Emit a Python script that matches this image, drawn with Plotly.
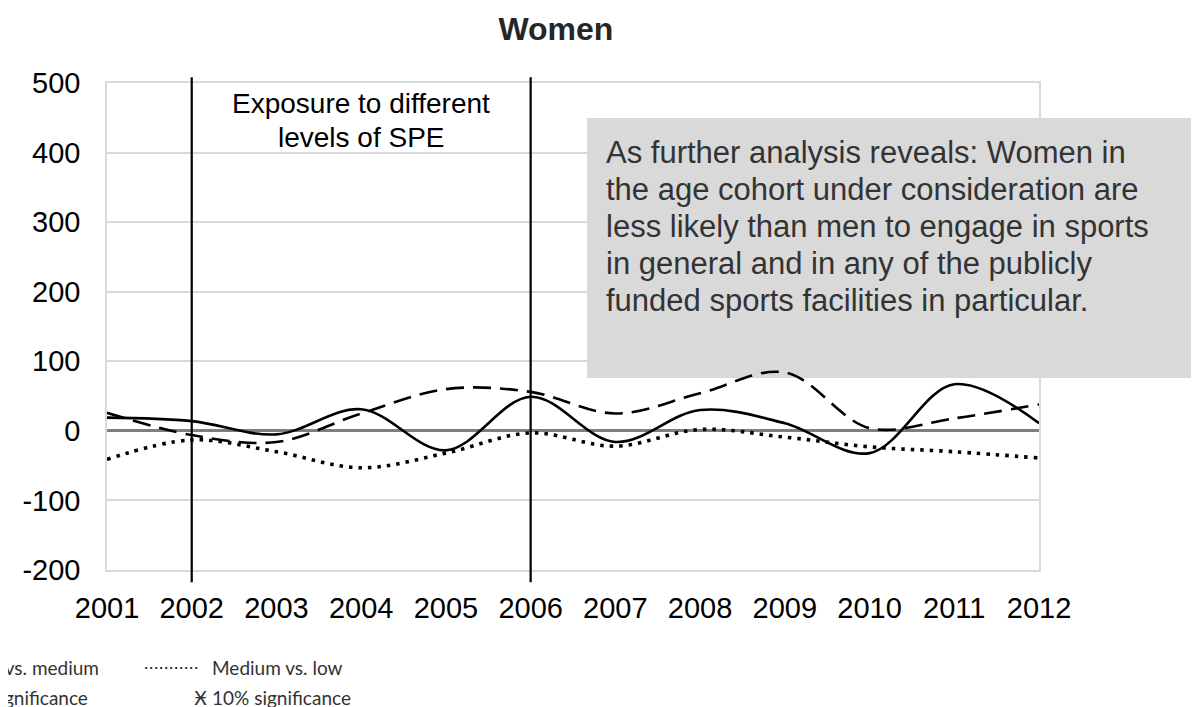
import plotly.graph_objects as go

# data
years = [2001, 2002, 2003, 2004, 2005, 2006, 2007, 2008, 2009, 2010, 2011, 2012]
year_labels = [str(y) for y in years]
y_ticks = [-200, -100, 0, 100, 200, 300, 400, 500]
y_labels = [str(v) for v in y_ticks]
high_vs_low = [19, 14, -5, 31, -28, 49, -16, 30, 11, -32, 67, 11]
high_vs_medium = [26, -6, -16, 25, 60, 56, 25, 54, 84, 4, 18, 38]
medium_vs_low = [-41, -13, -30, -53, -32, -3, -22, 2, -9, -23, -30, -39]
exposure_years = [2002, 2006]

exposure_lines = ["Exposure to different", "levels of SPE"]
note_lines = [
    "As further analysis reveals: Women in",
    "the age cohort under consideration are",
    "less likely than men to engage in sports",
    "in general and in any of the publicly",
    "funded sports facilities in particular.",
]

FONT = "Liberation Sans, Arial, sans-serif"
LEG_FONT = "Lato, Open Sans, sans-serif"

fig = go.Figure()

# solid / dashed / dotted series (smoothed like the original)
fig.add_trace(go.Scatter(
    x=years, y=high_vs_low, name="High vs. low", mode="lines",
    line=dict(color="black", width=2.6, shape="spline", smoothing=1.0)
))
fig.add_trace(go.Scatter(
    x=years, y=high_vs_medium, name="High vs. medium", mode="lines",
    line=dict(color="black", width=2.6, shape="spline", smoothing=1.0, dash="18px,9px")
))
fig.add_trace(go.Scatter(
    x=years, y=medium_vs_low, name="Medium vs. low", mode="lines",
    line=dict(color="black", width=3.6, shape="spline", smoothing=1.0, dash="3.5px,6px")
))

# exposure window
for yr in exposure_years:
    fig.add_shape(type="line", xref="x", yref="paper", x0=yr, x1=yr, y0=-0.025, y1=1.012,
                  line=dict(color="black", width=2.2), layer="above")
for i, txt in enumerate(exposure_lines):
    fig.add_annotation(x=sum(exposure_years) / 2, xref="x", y=0.957 - i * 0.068, yref="paper",
                       yanchor="middle", showarrow=False, text=txt,
                       font=dict(family=FONT, size=28, color="black"))

# grey note box
fig.add_shape(type="rect", xref="paper", yref="paper", x0=0.515, x1=1.164, y0=0.394, y1=0.928,
              fillcolor="#d9d9d9", line=dict(width=0), layer="between")
for i, txt in enumerate(note_lines):
    fig.add_annotation(x=0.533, xref="paper", y=0.858 - i * 0.076, yref="paper",
                       xanchor="left", yanchor="middle", showarrow=False, text=txt,
                       font=dict(family=FONT, size=31, color="#333333"))

# bottom legend (cut off at the left edge, as in the reference)
leg = dict(showarrow=False, xref="paper", yref="paper", yanchor="middle",
           font=dict(family=LEG_FONT, size=19, color="#333333"))
fig.add_annotation(x=-0.006, y=-0.201, xanchor="right", text="— — High vs. medium", **leg)
fig.add_annotation(x=-0.018, y=-0.261, xanchor="right", text="Ӿ 5% significance", **leg)
fig.add_annotation(x=0.110, y=-0.201, xanchor="left", text="Medium vs. low", **leg)
fig.add_annotation(x=0.091, y=-0.261, xanchor="left", text="Ӿ 10% significance", **leg)
fig.add_shape(type="line", xref="paper", yref="paper", x0=0.041, x1=0.100, y0=-0.201, y1=-0.201,
              line=dict(color="#333333", width=2, dash="2px,3px"))

fig.update_xaxes(
    range=[2001, 2012], tickvals=years, ticktext=year_labels,
    showgrid=False, zeroline=False, showline=True, mirror=True,
    linecolor="#d9d9d9", linewidth=1.5, ticks="", ticklabelstandoff=11, automargin=False,
    tickfont=dict(family=FONT, size=29, color="black")
)
fig.update_yaxes(
    range=[-200, 500], tickvals=y_ticks, ticktext=y_labels,
    showgrid=True, gridcolor="#d9d9d9", gridwidth=2,
    zeroline=True, zerolinecolor="#7f7f7f", zerolinewidth=2.5,
    showline=True, mirror=True, linecolor="#d9d9d9", linewidth=1.5,
    ticks="", ticklabelstandoff=19, automargin=False,
    tickfont=dict(family=FONT, size=29, color="black")
)

# page body adds an 8px margin, so the figure is 8px smaller than the window
fig.update_layout(
    width=1191, height=699,
    margin=dict(l=99, r=160, t=75, b=137),
    paper_bgcolor="white", plot_bgcolor="white",
    showlegend=False,
    title=dict(text="<b>Women</b>", xref="container", x=0.460, xanchor="center",
               yref="container", y=0.970, yanchor="middle",
               font=dict(family=FONT, size=32, color="#262626")),
)

fig.write_html("out.html")
